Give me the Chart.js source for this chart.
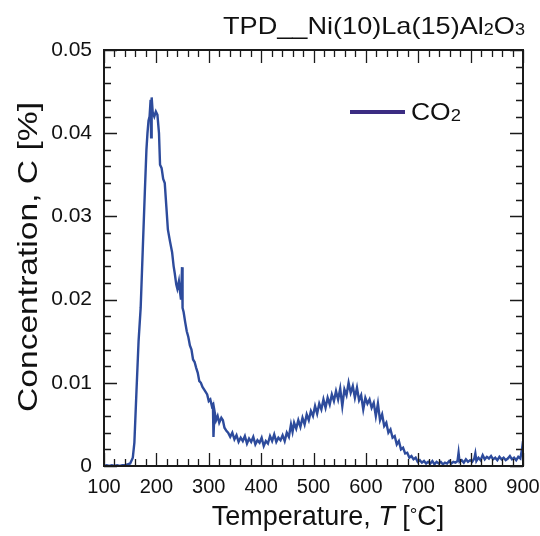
<!DOCTYPE html>
<html>
<head>
<meta charset="utf-8">
<script src="https://cdn.jsdelivr.net/npm/chart.js@4/dist/chart.umd.min.js"></script>
<style>
html, body { margin: 0; padding: 0; background: #fff; }
#wrap { width: 540px; height: 536px; }
</style>
</head>
<body>
<div id="wrap"><canvas id="tpdchart"></canvas></div>
<script>
// CO2 TPD profile
const temps = [100,105,110,115,120,125,130,135,140,145,150,155,158,162,166,170,174,178,181,183,185,187,189,190,191,193,196,199,202,205,207,210,213,216,219,222,226,230,233,235,238,240,243,245,247,249,250,252,255,258,261,264,267,270,273,276,279,282,285,288,291,294,297,300,303,306,308,309,311,314,317,320,324,327,330,334,337,341,345,349,353,357,361,365,369,373,377,381,385,389,393,397,401,405,409,413,417,421,425,429,433,437,441,445,449,453,457,460,463,467,471,475,479,483,487,491,495,499,503,507,511,515,519,523,527,531,535,539,543,547,551,555,559,563,567,571,575,579,583,587,591,595,599,603,607,611,615,619,623,627,631,635,639,643,647,651,655,659,663,667,671,675,679,683,687,691,695,699,703,707,711,715,719,723,727,731,735,739,743,747,751,755,759,763,767,771,775,777,779,783,787,791,795,799,803,807,809,811,815,819,823,827,831,835,839,843,847,851,855,859,863,867,871,875,879,883,887,891,895,898,900];
const co2 = [0.0000,0.0001,0.0000,0.0001,0.0000,0.0001,0.0000,0.0001,0.0001,0.0002,0.0003,0.0010,0.0028,0.0090,0.0150,0.0190,0.0260,0.0330,0.0380,0.0400,0.0415,0.0420,0.0440,0.0395,0.0443,0.0425,0.0420,0.0426,0.0422,0.0400,0.0362,0.0358,0.0345,0.0340,0.0312,0.0284,0.0270,0.0257,0.0240,0.0232,0.0218,0.0213,0.0222,0.0210,0.0200,0.0239,0.0190,0.0185,0.0173,0.0162,0.0155,0.0145,0.0140,0.0128,0.0125,0.0118,0.0112,0.0102,0.0100,0.0095,0.0092,0.0089,0.0086,0.0078,0.0080,0.0072,0.0074,0.0035,0.0066,0.0055,0.0060,0.0052,0.0058,0.0055,0.0046,0.0042,0.0040,0.0035,0.0040,0.0032,0.0037,0.0029,0.0034,0.0030,0.0036,0.0027,0.0033,0.0029,0.0035,0.0026,0.0031,0.0028,0.0034,0.0024,0.0030,0.0027,0.0036,0.0030,0.0038,0.0029,0.0034,0.0031,0.0037,0.0030,0.0040,0.0035,0.0050,0.0041,0.0052,0.0045,0.0055,0.0047,0.0058,0.0050,0.0062,0.0055,0.0066,0.0060,0.0072,0.0063,0.0075,0.0068,0.0080,0.0070,0.0082,0.0074,0.0086,0.0078,0.0090,0.0080,0.0093,0.0072,0.0092,0.0085,0.0100,0.0088,0.0096,0.0082,0.0094,0.0079,0.0085,0.0068,0.0082,0.0075,0.0080,0.0070,0.0076,0.0060,0.0075,0.0055,0.0062,0.0048,0.0052,0.0040,0.0044,0.0034,0.0036,0.0026,0.0030,0.0020,0.0022,0.0015,0.0016,0.0010,0.0012,0.0008,0.0010,0.0005,0.0007,0.0004,0.0006,0.0003,0.0005,0.0003,0.0006,0.0002,0.0005,0.0003,0.0005,0.0002,0.0004,0.0003,0.0006,0.0003,0.0005,0.0004,0.0006,0.0016,0.0005,0.0007,0.0004,0.0008,0.0005,0.0007,0.0005,0.0009,0.0015,0.0006,0.0010,0.0007,0.0013,0.0008,0.0011,0.0009,0.0012,0.0008,0.0010,0.0007,0.0011,0.0008,0.0010,0.0007,0.0009,0.0012,0.0008,0.0010,0.0007,0.0011,0.0009,0.0020,0.0030];

const xTicks = [100, 200, 300, 400, 500, 600, 700, 800, 900];
const yTicks = [0, 0.01, 0.02, 0.03, 0.04, 0.05];

const FONT = "'Liberation Sans', Arial, sans-serif";

// draw a run of text pieces (subscripts / italics), sx = horizontal stretch
function drawRun(ctx, parts, x, y, align, sx) {
    sx = sx || 1;
    let total = 0;
    parts.forEach(p => {
        ctx.font = (p.italic ? "italic " : "") + p.size + "px " + FONT;
        p.w = ctx.measureText(p.t).width;
        total += p.w;
    });
    total *= sx;
    let cx = align === "right" ? x - total : align === "center" ? x - total / 2 : x;
    ctx.save();
    ctx.translate(cx, y);
    ctx.scale(sx, 1);
    let px = 0;
    parts.forEach(p => {
        ctx.font = (p.italic ? "italic " : "") + p.size + "px " + FONT;
        ctx.fillText(p.t, px, p.dy || 0);
        px += p.w;
    });
    ctx.restore();
}

const framePlugin = {
    id: "frame",
    afterDraw(chart) {
        const ctx = chart.ctx;
        const a = chart.chartArea;
        const xs = chart.scales.x, ys = chart.scales.y;
        ctx.save();
        ctx.strokeStyle = "#1a1a1a";
        ctx.lineWidth = 2;
        ctx.strokeRect(a.left, a.top, a.right - a.left, a.bottom - a.top);

        // inward ticks on all four sides
        ctx.lineWidth = 1.3;
        ctx.beginPath();
        for (let t = 100; t <= 900; t += 20) {
            const px = Math.round(xs.getPixelForValue(t)) + 0.5;
            const len = t % 100 === 0 ? 13 : 7;
            ctx.moveTo(px, a.bottom); ctx.lineTo(px, a.bottom - len);
            ctx.moveTo(px, a.top); ctx.lineTo(px, a.top + len);
        }
        for (let i = 0; i <= 25; i++) {
            const py = Math.round(ys.getPixelForValue(i * 0.002)) + 0.5;
            const len = i % 5 === 0 ? 13 : 7;
            ctx.moveTo(a.left, py); ctx.lineTo(a.left + len, py);
            ctx.moveTo(a.right, py); ctx.lineTo(a.right - len, py);
        }
        ctx.stroke();

        ctx.fillStyle = "#111";
        ctx.textBaseline = "alphabetic";

        // title
        drawRun(ctx, [
            { t: "TPD__Ni(10)La(15)Al", size: 24 },
            { t: "2", size: 16, dy: 1 },
            { t: "O", size: 24 },
            { t: "3", size: 16, dy: 1 }
        ], 525, 34, "right", 1.13);

        // legend
        ctx.strokeStyle = "#3b2c82";
        ctx.lineWidth = 4;
        ctx.beginPath();
        ctx.moveTo(350, 112); ctx.lineTo(405, 112);
        ctx.stroke();
        drawRun(ctx, [
            { t: "CO", size: 23 },
            { t: "2", size: 16, dy: 1 }
        ], 411, 120, "left", 1.15);

        // x axis title
        drawRun(ctx, [
            { t: "Temperature, ", size: 27 },
            { t: "T", size: 27, italic: true },
            { t: " [", size: 27 },
            { t: "\u00b0", size: 19, dy: -4 },
            { t: "C]", size: 27 }
        ], 328, 525, "center");

        // y axis title
        ctx.translate(37, 257);
        ctx.rotate(-Math.PI / 2);
        drawRun(ctx, [
            { t: "Concentration, C [%]", size: 28 }
        ], 0, 0, "center", 1.2);
        ctx.restore();
    }
};

new Chart(document.getElementById("tpdchart"), {
    type: "line",
    data: {
        datasets: [{
            data: temps.map((t, i) => ({ x: t, y: co2[i] })),
            fill: false,
            borderColor: "#2d4b9c",
            borderWidth: 2.4,
            pointRadius: 0,
            tension: 0
        }]
    },
    options: {
        responsive: true,
        maintainAspectRatio: false,
        animation: false,
        layout: { padding: { left: 0, right: 17, top: 50, bottom: 40 } },
        plugins: { legend: { display: false }, title: { display: false }, tooltip: { enabled: false } },
        scales: {
            x: {
                type: "linear",
                min: 100, max: 900,
                afterBuildTicks: s => { s.ticks = xTicks.map(v => ({ value: v })); },
                afterFit: s => { s.height = 30; s.paddingLeft = 0; s.paddingRight = 0; },
                grid: { display: false, drawTicks: false },
                border: { display: false },
                ticks: {
                    padding: 9,
                    color: "#111",
                    font: { family: FONT, size: 20 },
                    maxRotation: 0,
                    autoSkip: false,
                    callback: v => String(v)
                }
            },
            y: {
                type: "linear",
                min: 0, max: 0.05,
                afterBuildTicks: s => { s.ticks = yTicks.map(v => ({ value: v })); },
                afterFit: s => { s.width = 104; s.paddingTop = 0; s.paddingBottom = 0; },
                grid: { display: false, drawTicks: false },
                border: { display: false },
                ticks: {
                    padding: 12,
                    color: "#111",
                    font: { family: FONT, size: 21 },
                    autoSkip: false,
                    callback: v => v === 0 ? "0" : v.toFixed(2)
                }
            }
        }
    },
    plugins: [framePlugin]
});
</script>
</body>
</html>
